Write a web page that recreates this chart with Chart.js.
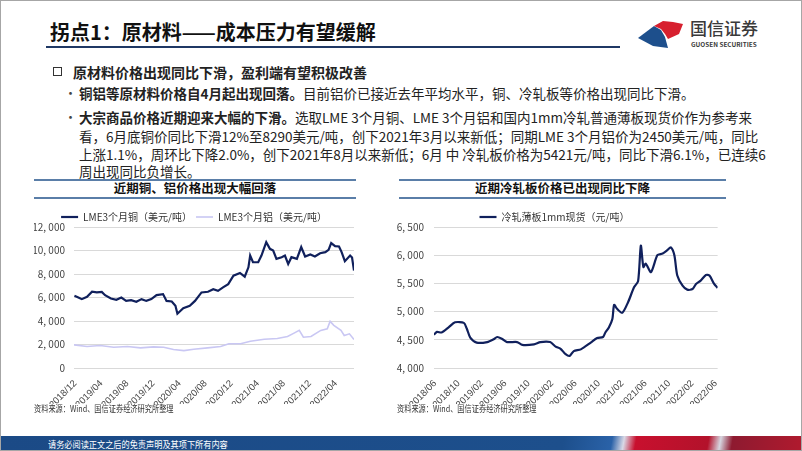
<!DOCTYPE html>
<html>
<head>
<meta charset="utf-8">
<script src="https://cdn.jsdelivr.net/npm/chart.js@4.4.0/dist/chart.umd.min.js"></script>
<style>
  body { margin: 0; background: #fff; }
  #slide { position: relative; width: 802px; height: 451px; box-sizing: border-box; border: 1px solid #a6a6a6; overflow: hidden; background: #fff; font-family: "Noto Sans CJK SC", sans-serif; color: #222; }
  .abs { position: absolute; white-space: nowrap; }
  .title { left: 49px; top: 18px; font-size: 20px; font-weight: bold; line-height: 26px; color: #111; }
  .rule { left: 45px; top: 45px; width: 574px; height: 2px; background: #1f3864; }
  .sq { left: 52px; top: 66px; width: 7px; height: 7px; border: 1.5px solid #333; }
  .txt { font-size: 13.5px; line-height: 18px; color: #222; }
  .txt b { font-weight: bold; }
  .dot { font-size: 13px; line-height: 18px; color: #444; }
  .panel-title { font-size: 12.5px; font-weight: bold; line-height: 18px; text-align: center; color: #111; }
  .hr { height: 1.5px; background: #5a7ea8; }
  .src { font-size: 9px; line-height: 12px; color: #333; transform: scaleX(0.8); transform-origin: left center; }
  canvas { position: absolute; }
  .footer { left: 0; top: 435px; width: 802px; height: 16px;
    background: linear-gradient(100deg, #1b4a86 0%, #1d4f8c 70%, #2a62a8 76%, #d9d9e6 77.5%, #c8102e 79%, #b3122b 88%, #d6d6e0 89.5%, #8e1a30 91%, #b11a2e 100%); }
  .foot-txt { left: 47px; top: 437px; font-size: 9.5px; line-height: 12px; color: #fff; transform: scaleX(0.86); transform-origin: left center; }
</style>
</head>
<body>
<div id="slide">
  <div class="abs title">拐点1：原材料——成本压力有望缓解</div>
  <div class="abs rule"></div>

  <svg class="abs" style="left:634px;top:14px" width="54" height="38" viewBox="634 14 54 38">
    <polygon points="637,37 653,25 660,29 664,36 667,47 652,45" fill="#1d4f8c"/>
    <polygon points="653,25 662,20 672,21 682,23 678,33 667,38 664,33 660,28" fill="#d7202f"/>
  </svg>
  <div class="abs" style="left:689px;top:16px;font-size:17px;line-height:22px;color:#3a3a3a;font-weight:500;">国信证券</div>
  <div class="abs" style="left:690px;top:40px;font-size:6.4px;line-height:8px;color:#3a3a3a;font-weight:bold;">GUOSEN SECURITIES</div>

  <div class="abs sq"></div>
  <div class="abs txt" style="left:72px;top:62px;font-size:14px;"><b>原材料价格出现同比下滑，盈利端有望积极改善</b></div>
  <div class="abs dot" style="left:63px;top:83px;">•</div>
  <div class="abs txt" style="left:78px;top:83px;"><b>铜铝等原材料价格自4月起出现回落。</b>目前铝价已接近去年平均水平，铜、冷轧板等价格出现同比下滑。</div>
  <div class="abs dot" style="left:63px;top:107px;">•</div>
  <div class="abs txt" style="left:78px;top:107px;"><b>大宗商品价格近期迎来大幅的下滑。</b>选取LME 3个月铜、LME 3个月铝和国内1mm冷轧普通薄板现货价作为参考来</div>
  <div class="abs txt" style="left:78px;top:126px;">看，6月底铜价同比下滑12%至8290美元/吨，创下2021年3月以来新低；同期LME 3个月铝价为2450美元/吨，同比</div>
  <div class="abs txt" style="left:78px;top:144px;">上涨1.1%，周环比下降2.0%，创下2021年8月以来新低；6月 中 冷轧板价格为5421元/吨，同比下滑6.1%，已连续6</div>
  <div class="abs txt" style="left:78px;top:161px;">周出现同比负增长。</div>

  <div class="abs hr" style="left:33px;top:178px;width:322px;"></div>
  <div class="abs panel-title" style="left:33px;top:178px;width:322px;">近期铜、铝价格出现大幅回落</div>
  <div class="abs hr" style="left:33px;top:196px;width:322px;"></div>

  <div class="abs hr" style="left:398px;top:178px;width:327px;"></div>
  <div class="abs panel-title" style="left:398px;top:178px;width:327px;">近期冷轧板价格已出现同比下降</div>
  <div class="abs hr" style="left:398px;top:196px;width:327px;"></div>

  <canvas id="metalChart" width="322" height="196" style="left:33px;top:207px;"></canvas>
  <canvas id="steelChart" width="335" height="196" style="left:390px;top:207px;"></canvas>

  <div class="abs src" style="left:33px;top:402px;">资料来源：Wind、国信证券经济研究所整理</div>
  <div class="abs src" style="left:396px;top:402px;">资料来源：Wind、国信证券经济研究所整理</div>

  <div class="abs footer"></div>
  <div class="abs foot-txt">请务必阅读正文之后的免责声明及其项下所有内容</div>
</div>

<script>
// ===== data =====
const metalTickLabels = ['2018/12', '2019/04', '2019/08', '2019/12', '2020/04', '2020/08', '2020/12', '2021/04', '2021/08', '2021/12', '2022/04'];
const steelTickLabels = ['2018/06', '2018/10', '2019/02', '2019/06', '2019/10', '2020/02', '2020/06', '2020/10', '2021/02', '2021/06', '2021/10', '2022/02', '2022/06'];

const copperDates = ['2018-11-27', '2018-12-15', '2019-01-01', '2019-01-25', '2019-02-18', '2019-03-10', '2019-04-03', '2019-04-18', '2019-05-15', '2019-06-10',
  '2019-07-03', '2019-07-25', '2019-08-18', '2019-09-12', '2019-10-06', '2019-10-28', '2019-11-21', '2019-12-15', '2020-01-15', '2020-02-01',
  '2020-02-25', '2020-03-12', '2020-03-21', '2020-04-18', '2020-05-18', '2020-06-12', '2020-07-12', '2020-08-12', '2020-09-06', '2020-09-28',
  '2020-10-21', '2020-11-15', '2020-12-09', '2021-01-09', '2021-02-01', '2021-02-18', '2021-02-26', '2021-03-09', '2021-04-03', '2021-04-18',
  '2021-05-10', '2021-05-27', '2021-06-12', '2021-06-27', '2021-07-21', '2021-08-06', '2021-08-21', '2021-09-06', '2021-10-01', '2021-10-21',
  '2021-11-09', '2021-12-03', '2021-12-24', '2022-01-18', '2022-02-12', '2022-02-27', '2022-03-09', '2022-03-27', '2022-04-15', '2022-04-27',
  '2022-05-12', '2022-06-06', '2022-06-15', '2022-06-24'];
const copperPrices = [6140, 6000, 5860, 6060, 6490, 6430, 6480, 6200, 5910, 5800,
  5990, 5710, 5770, 5630, 5860, 5710, 5860, 6200, 6290, 5710,
  5660, 5290, 4620, 5090, 5290, 5710, 6430, 6490, 6710, 6570,
  6860, 7140, 7860, 8090, 7770, 8570, 9570, 9000, 9000, 9570,
  10710, 10140, 10000, 9290, 9430, 9570, 8860, 9430, 9290, 10290,
  9490, 9660, 9490, 9770, 9860, 10060, 10630, 10370, 10340, 9860,
  9090, 9570, 9400, 8290];

const aluDates = ['2018-11-25', '2019-01-25', '2019-03-25', '2019-05-28', '2019-08-01', '2019-10-01', '2019-12-01', '2020-01-18', '2020-03-03', '2020-04-21',
  '2020-06-06', '2020-08-10', '2020-10-10', '2020-11-18', '2021-01-12', '2021-02-27', '2021-05-01', '2021-07-01', '2021-08-18', '2021-09-18',
  '2021-10-12', '2021-11-01', '2021-12-06', '2022-01-21', '2022-02-21', '2022-03-04', '2022-03-21', '2022-04-24', '2022-05-09', '2022-06-03',
  '2022-06-24'];
const aluPrices = [1970, 1830, 1910, 1770, 1830, 1710, 1800, 1770, 1570, 1480,
  1590, 1710, 1830, 2060, 2060, 2280, 2450, 2510, 2680, 2970,
  3200, 2620, 2680, 3200, 3340, 3970, 3630, 3200, 2770, 2910,
  2430];

const steelDates = ['2018-05-25', '2018-06-10', '2018-07-04', '2018-08-10', '2018-09-13', '2018-10-28', '2018-11-13', '2018-12-01', '2019-01-04', '2019-02-28',
  '2019-04-01', '2019-04-19', '2019-05-13', '2019-06-10', '2019-08-01', '2019-08-28', '2019-10-28', '2019-12-01', '2020-01-21', '2020-02-19',
  '2020-03-13', '2020-04-10', '2020-05-01', '2020-05-22', '2020-06-28', '2020-08-19', '2020-09-22', '2020-10-22', '2020-11-04', '2020-11-22',
  '2020-12-10', '2020-12-19', '2021-01-04', '2021-02-01', '2021-03-01', '2021-04-01', '2021-04-22', '2021-05-06', '2021-05-19', '2021-06-01',
  '2021-06-28', '2021-08-01', '2021-08-28', '2021-09-22', '2021-10-10', '2021-10-28', '2021-11-13', '2021-12-10', '2022-01-04', '2022-02-01',
  '2022-02-19', '2022-03-13', '2022-04-10', '2022-04-28', '2022-05-22', '2022-06-10'];
const steelPrices = [4590, 4640, 4630, 4720, 4810, 4800, 4700, 4540, 4450, 4460,
  4510, 4550, 4520, 4460, 4460, 4410, 4420, 4460, 4460, 4380,
  4345, 4245, 4215, 4300, 4330, 4450, 4530, 4550, 4630, 4720,
  4870, 5120, 5050, 4980, 5170, 5430, 5540, 6170, 5790, 5850,
  5700, 6000, 6030, 6090, 6140, 6000, 5640, 5460, 5390, 5400,
  5490, 5550, 5650, 5640, 5490, 5420];

// months elapsed since a 'YYYY/MM' base, days as fraction of a month
function monthPos(s, base) {
  const p = s.split(/[-\/]/).map(Number);
  const b = base.split('/').map(Number);
  return (p[0] - b[0]) * 12 + (p[1] - b[1]) + (p[2] ? (p[2] - 1) / 30 : 0);
}

const FONT = '"Noto Sans CJK SC", sans-serif';
const tickFont = { family: FONT, size: 10 };
const xTickFont = { family: '"Liberation Sans", Arial, sans-serif', size: 9.5 };
const fmt = v => v.toLocaleString('en-US').replace(',', ', ');

Chart.defaults.font.family = FONT;

// ===== copper / aluminium =====
const metalBase = metalTickLabels[0];
new Chart(document.getElementById('metalChart'), {
  type: 'line',
  data: {
    datasets: [{
      label: 'LME3个月铜（美元/吨）',
      data: copperDates.map((d, i) => ({ x: monthPos(d, metalBase), y: copperPrices[i] })),
      borderColor: '#10205c',
      backgroundColor: '#10205c',
      borderWidth: 2.2,
      pointRadius: 0
    }, {
      label: 'LME3个月铝（美元/吨）',
      data: aluDates.map((d, i) => ({ x: monthPos(d, metalBase), y: aluPrices[i] })),
      borderColor: '#c9c7f3',
      backgroundColor: '#c9c7f3',
      borderWidth: 1.6,
      pointRadius: 0
    }]
  },
  options: {
    responsive: false,
    animation: false,
    layout: { padding: { right: 2 } },
    plugins: {
      legend: {
        maxHeight: 19,
        labels: { usePointStyle: true, pointStyle: 'line', pointStyleWidth: 17, font: { family: FONT, size: 10 }, color: '#333', padding: 4 }
      },
      tooltip: { enabled: false }
    },
    scales: {
      x: {
        type: 'linear',
        min: monthPos(aluDates[0], metalBase),
        max: monthPos(copperDates[copperDates.length - 1], metalBase),
        afterBuildTicks: s => { s.ticks = metalTickLabels.map(t => ({ value: monthPos(t, metalBase) })); },
        afterFit: s => { s.height = 36; },
        ticks: { callback: (v, i) => metalTickLabels[i], autoSkip: false, minRotation: 45, maxRotation: 45, font: xTickFont, color: '#444', padding: 2 },
        grid: { display: false },
        border: { display: false }
      },
      y: {
        min: 0, max: 12000,
        afterFit: s => { s.width = 40; },
        ticks: { stepSize: 2000, callback: v => fmt(v), font: tickFont, color: '#444', padding: 9 },
        grid: { color: '#d9d9d9', drawTicks: false },
        border: { display: false }
      }
    }
  }
});

// ===== cold rolled sheet =====
const steelBase = steelTickLabels[0];
new Chart(document.getElementById('steelChart'), {
  type: 'line',
  data: {
    datasets: [{
      label: '冷轧薄板1mm现货（元/吨）',
      data: steelDates.map((d, i) => ({ x: monthPos(d, steelBase), y: steelPrices[i] })),
      borderColor: '#10205c',
      backgroundColor: '#10205c',
      borderWidth: 2.2,
      pointRadius: 0,
      tension: 0.25
    }]
  },
  options: {
    responsive: false,
    animation: false,
    layout: { padding: { right: 8 } },
    plugins: {
      legend: {
        maxHeight: 19,
        labels: { usePointStyle: true, pointStyle: 'line', pointStyleWidth: 17, font: { family: FONT, size: 10 }, color: '#333', padding: 4 }
      },
      tooltip: { enabled: false }
    },
    scales: {
      x: {
        type: 'linear',
        min: monthPos(steelDates[0], steelBase),
        max: monthPos(steelDates[steelDates.length - 1], steelBase),
        afterBuildTicks: s => { s.ticks = steelTickLabels.map(t => ({ value: monthPos(t, steelBase) })); },
        afterFit: s => { s.height = 36; },
        ticks: { callback: (v, i) => steelTickLabels[i], autoSkip: false, minRotation: 45, maxRotation: 45, font: xTickFont, color: '#444', padding: 2 },
        grid: { display: false },
        border: { display: false }
      },
      y: {
        min: 4000, max: 6500,
        afterFit: s => { s.width = 43; },
        ticks: { stepSize: 500, callback: v => fmt(v), font: tickFont, color: '#444', padding: 10 },
        grid: { color: '#d9d9d9', drawTicks: false },
        border: { display: false }
      }
    }
  }
});
</script>
</body>
</html>
